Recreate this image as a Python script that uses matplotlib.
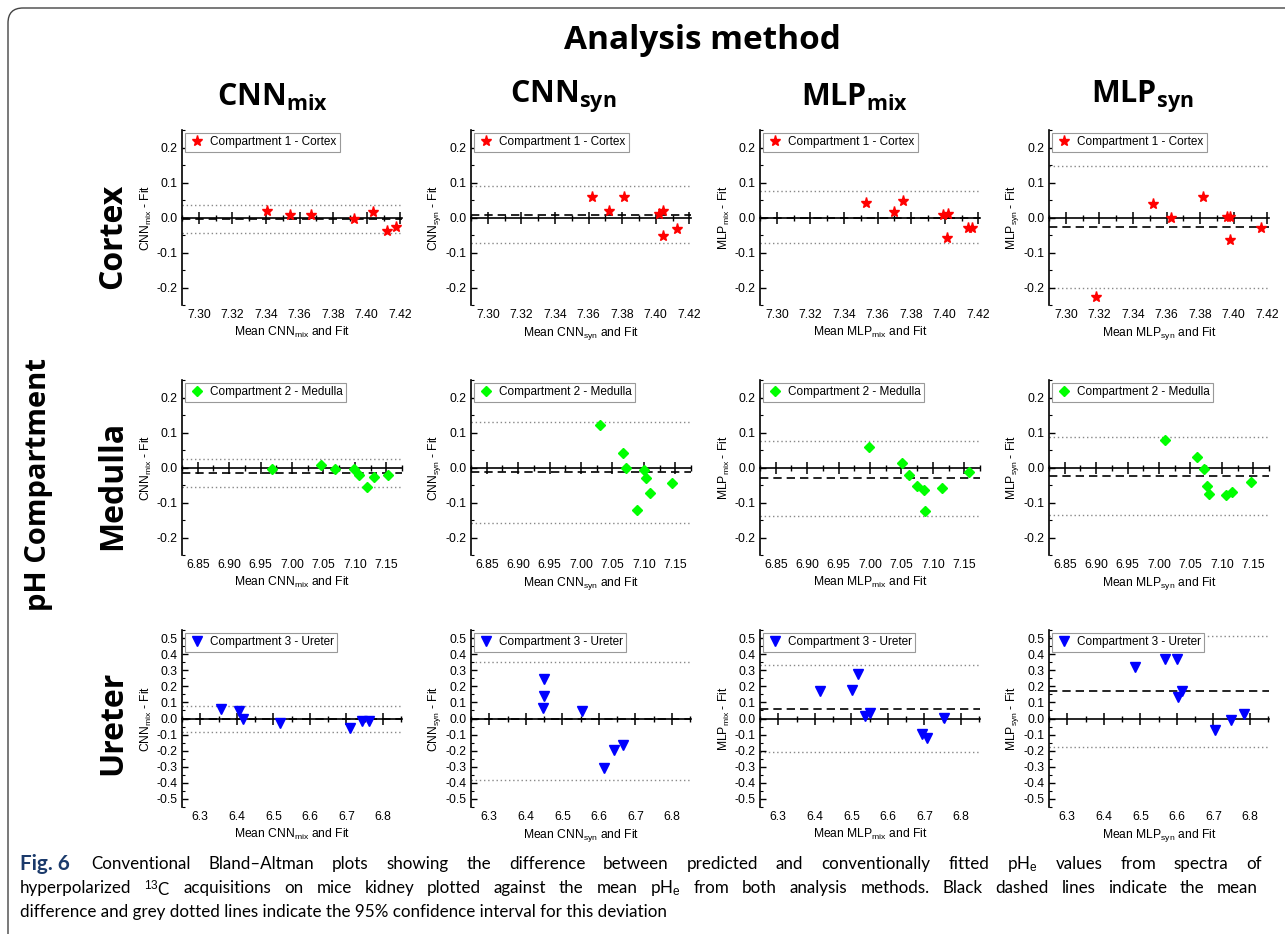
import matplotlib
matplotlib.use("Agg")
import numpy as np
import matplotlib.pyplot as plt
from matplotlib.ticker import MultipleLocator, FixedLocator, FormatStrFormatter
from matplotlib.patches import FancyBboxPatch

# dane
methods = ["CNN", "CNN", "MLP", "MLP"]
method_subs = ["mix", "syn", "mix", "syn"]
compartments = ["Cortex", "Medulla", "Ureter"]
legend_labels = ["Compartment 1 - Cortex", "Compartment 2 - Medulla", "Compartment 3 - Ureter"]

# Cortex
cortex_cnn_mix_x = [7.3407, 7.3546, 7.367, 7.3925, 7.404, 7.412, 7.4177]
cortex_cnn_mix_y = [0.019, 0.008, 0.008, -0.005, 0.016, -0.039, -0.026]
cortex_cnn_syn_x = [7.3621, 7.3722, 7.381, 7.402, 7.4044, 7.4046, 7.4125]
cortex_cnn_syn_y = [0.060, 0.020, 0.060, 0.011, 0.020, -0.053, -0.032]
cortex_mlp_mix_x = [7.3532, 7.370, 7.375, 7.3992, 7.402, 7.4016, 7.414, 7.4165]
cortex_mlp_mix_y = [0.042, 0.015, 0.048, 0.007, 0.010, -0.059, -0.030, -0.030]
cortex_mlp_syn_x = [7.3178, 7.352, 7.3628, 7.3818, 7.396, 7.398, 7.3975, 7.4162]
cortex_mlp_syn_y = [-0.226, 0.039, -0.002, 0.060, 0.001, 0.002, -0.064, -0.031]
cortex_mean = [-0.003, 0.008, -0.001, -0.027]
cortex_upper = [0.037, 0.090, 0.075, 0.146]
cortex_lower = [-0.045, -0.072, -0.074, -0.202]

# Medulla
medulla_cnn_mix_x = [6.9684, 7.0463, 7.069, 7.098, 7.1058, 7.119, 7.130, 7.1526]
medulla_cnn_mix_y = [-0.003, 0.006, -0.005, -0.005, -0.020, -0.057, -0.027, -0.020]
medulla_cnn_syn_x = [7.0303, 7.067, 7.0723, 7.0995, 7.1037, 7.110, 7.0894, 7.1447]
medulla_cnn_syn_y = [0.122, 0.042, -0.001, -0.007, -0.029, -0.074, -0.122, -0.043]
medulla_mlp_mix_x = [6.999, 7.0505, 7.062, 7.0753, 7.0853, 7.0868, 7.1153, 7.1574]
medulla_mlp_mix_y = [0.059, 0.013, -0.020, -0.052, -0.063, -0.123, -0.058, -0.014]
medulla_mlp_syn_x = [7.0092, 7.0612, 7.0713, 7.0771, 7.0798, 7.1064, 7.1159, 7.1467]
medulla_mlp_syn_y = [0.080, 0.031, -0.004, -0.052, -0.077, -0.079, -0.069, -0.040]
medulla_mean = [-0.015, -0.014, -0.031, -0.025]
medulla_upper = [0.024, 0.131, 0.077, 0.087]
medulla_lower = [-0.055, -0.158, -0.138, -0.137]

# Ureter
ureter_cnn_mix_x = [6.3566, 6.405, 6.416, 6.517, 6.7106, 6.7434, 6.7617]
ureter_cnn_mix_y = [0.060, 0.046, -0.002, -0.030, -0.062, -0.017, -0.017]
ureter_cnn_syn_x = [6.449, 6.4507, 6.446, 6.5545, 6.614, 6.642, 6.667]
ureter_cnn_syn_y = [0.246, 0.138, 0.0625, 0.048, -0.308, -0.194, -0.163]
ureter_mlp_mix_x = [6.4132, 6.5029, 6.519, 6.537, 6.5516, 6.692, 6.708, 6.7538]
ureter_mlp_mix_y = [0.173, 0.177, 0.277, 0.015, 0.035, -0.094, -0.119, 0.006]
ureter_mlp_syn_x = [6.4858, 6.5678, 6.6005, 6.6024, 6.6151, 6.7044, 6.7472, 6.7836]
ureter_mlp_syn_y = [0.321, 0.371, 0.371, 0.133, 0.169, -0.073, -0.010, 0.029]
ureter_mean = [-0.004, -0.006, 0.060, 0.169]
ureter_upper = [0.077, 0.354, 0.335, 0.515]
ureter_lower = [-0.085, -0.381, -0.210, -0.177]

xs = [[cortex_cnn_mix_x, cortex_cnn_syn_x, cortex_mlp_mix_x, cortex_mlp_syn_x],
      [medulla_cnn_mix_x, medulla_cnn_syn_x, medulla_mlp_mix_x, medulla_mlp_syn_x],
      [ureter_cnn_mix_x, ureter_cnn_syn_x, ureter_mlp_mix_x, ureter_mlp_syn_x]]
ys = [[cortex_cnn_mix_y, cortex_cnn_syn_y, cortex_mlp_mix_y, cortex_mlp_syn_y],
      [medulla_cnn_mix_y, medulla_cnn_syn_y, medulla_mlp_mix_y, medulla_mlp_syn_y],
      [ureter_cnn_mix_y, ureter_cnn_syn_y, ureter_mlp_mix_y, ureter_mlp_syn_y]]
means = [cortex_mean, medulla_mean, ureter_mean]
uppers = [cortex_upper, medulla_upper, ureter_upper]
lowers = [cortex_lower, medulla_lower, ureter_lower]

# ustawienia wierszy
row_xlim = [(7.29, 7.421), (6.825, 7.175), (6.25, 6.852)]
row_ylim = [(-0.25, 0.25), (-0.25, 0.25), (-0.55, 0.55)]
row_xticks = [np.arange(7.30, 7.4201, 0.02), np.arange(6.85, 7.1501, 0.05), np.arange(6.3, 6.801, 0.1)]
row_xmajor = [0.02, 0.05, 0.1]
row_xfmt = ["%.2f", "%.2f", "%.1f"]
row_marker = ["*", "D", "v"]
row_msize = [8, 5.5, 7]
row_color = ["#ff0000", "#00ff00", "#0000ff"]

caption_1 = r"Conventional Bland–Altman plots showing the difference between predicted and conventionally fitted pH$_\mathrm{e}$ values from spectra of"
caption_2 = r"hyperpolarized $^{13}$C acquisitions on mice kidney plotted against the mean pH$_\mathrm{e}$ from both analysis methods. Black dashed lines indicate the mean"
caption_3 = "difference and grey dotted lines indicate the 95% confidence interval for this deviation"

plt.rcParams["font.family"] = ["Liberation Sans", "DejaVu Sans"]
plt.rcParams["axes.unicode_minus"] = False
plt.rcParams["mathtext.fontset"] = "custom"
plt.rcParams["mathtext.rm"] = "Liberation Sans"
plt.rcParams["mathtext.it"] = "Liberation Sans:italic"
plt.rcParams["mathtext.bf"] = "Open Sans:bold"

fig = plt.figure(figsize=(12.85, 9.34), dpi=100)
W, H = 1285.0, 934.0

# ramka z zaokraglonym rogiem
frame = FancyBboxPatch((0.08, -1.0), 14.0, 10.26, boxstyle="round,pad=0,rounding_size=0.15",
                       transform=fig.dpi_scale_trans, fill=False, edgecolor="#444444", lw=1.0)
fig.patches.append(frame)

col_left = [182, 471, 760, 1049]
row_top = [130, 380, 630]
row_h = [175, 175, 177]

for r in range(3):
    for c in range(4):
        ax = fig.add_axes([col_left[c] / W, 1 - (row_top[r] + row_h[r]) / H, 220 / W, row_h[r] / H])
        ax.set_xlim(*row_xlim[r])
        ax.set_ylim(*row_ylim[r])

        ax.axhline(uppers[r][c], color="#888888", ls=(0, (1, 2)), lw=1.0, zorder=1)
        ax.axhline(lowers[r][c], color="#888888", ls=(0, (1, 2)), lw=1.0, zorder=1)
        ax.axhline(means[r][c], color="black", ls=(0, (5, 3)), lw=1.2, zorder=2)

        ax.plot(xs[r][c], ys[r][c], ls="none", marker=row_marker[r], ms=row_msize[r],
                color=row_color[r], label=legend_labels[r], zorder=4)

        # os x na poziomie zera (styl Origin)
        ax.spines["top"].set_visible(False)
        ax.spines["right"].set_visible(False)
        ax.spines["bottom"].set_position("zero")
        ax.spines["bottom"].set_linewidth(1.2)
        ax.spines["left"].set_linewidth(1.2)
        ax.xaxis.set_major_locator(FixedLocator(row_xticks[r]))
        ax.xaxis.set_minor_locator(MultipleLocator(row_xmajor[r] / 2))
        ax.tick_params(axis="x", which="major", direction="inout", length=9, width=1.1,
                       labelbottom=False)
        ax.tick_params(axis="x", which="minor", direction="inout", length=5, width=1.0)
        ax.yaxis.set_major_locator(MultipleLocator(0.1))
        ax.yaxis.set_minor_locator(MultipleLocator(0.05))
        ax.yaxis.set_major_formatter(FormatStrFormatter("%.1f"))
        ax.tick_params(axis="y", which="major", direction="in", length=4, width=1.0,
                       labelsize=8.7, pad=3)
        ax.tick_params(axis="y", which="minor", direction="in", length=2.5, width=0.8)

        sec = ax.secondary_xaxis("bottom")
        sec.spines["bottom"].set_visible(False)
        sec.xaxis.set_major_locator(FixedLocator(row_xticks[r]))
        sec.xaxis.set_major_formatter(FormatStrFormatter(row_xfmt[r]))
        sec.tick_params(axis="x", which="both", length=0, labelsize=8.7, pad=3)
        sec.set_xlabel(r"Mean %s$_\mathrm{%s}$ and Fit" % (methods[c], method_subs[c]),
                       fontsize=8.7, labelpad=3)

        ax.set_ylabel(r"%s$_\mathrm{%s}$ - Fit" % (methods[c], method_subs[c]),
                      fontsize=8.7, labelpad=2)

        leg = ax.legend(loc="upper left", fontsize=8.5, numpoints=1, fancybox=False,
                        framealpha=1, edgecolor="#999999", borderpad=0.3,
                        handlelength=1.4, handletextpad=0.4, borderaxespad=0.25)
        leg.get_frame().set_linewidth(0.8)

# tytuly
fig.text(0.547, 0.957, "Analysis method", ha="center", va="center", fontsize=24,
         fontweight="bold", family="Open Sans")
title_x = [273, 563, 855, 1142]
for c in range(4):
    fig.text(title_x[c] / W, 0.896, r"$\mathbf{%s}_{\mathbf{%s}}$" % (methods[c], method_subs[c]),
             ha="center", va="center", fontsize=22)

row_label_y = [0.747, 0.480, 0.226]
for r in range(3):
    fig.text(0.088, row_label_y[r], compartments[r], rotation=90, ha="center", va="center",
             fontsize=23, fontweight="bold", family="Open Sans")
fig.text(0.030, 0.481, "pH Compartment", rotation=90, ha="center", va="center",
         fontsize=21, fontweight="bold", family="Open Sans")

# podpis - ostatnia linia wyznacza rozmiar czcionki, pierwsze dwie wyjustowane
renderer = fig.canvas.get_renderer()
cap_font = dict(fontsize=13, family="Lato", va="center", ha="left")
t3 = fig.text(20 / W, 0.024, caption_3, **cap_font)
cap_size = 13 * 644 / t3.get_window_extent(renderer).width
t3.set_fontsize(cap_size)
cap_font["fontsize"] = cap_size


def justified(line, x0, x1, y):
    words = line.split(" ")
    texts = [fig.text(x0 / W, y, w, **cap_font) for w in words]
    widths = [t.get_window_extent(renderer).width for t in texts]
    gap = (x1 - x0 - sum(widths)) / (len(words) - 1)
    x = x0
    for t, w in zip(texts, widths):
        t.set_x(x / W)
        x += w + gap


fig.text(20 / W, 0.075, "Fig. 6", fontweight="bold", color="#1b3a6b",
         **dict(cap_font, fontsize=cap_size * 1.22))
justified(caption_1, 91, 1262, 0.075)
justified(caption_2, 20, 1258, 0.049)

fig.savefig("out.png", dpi=100)
